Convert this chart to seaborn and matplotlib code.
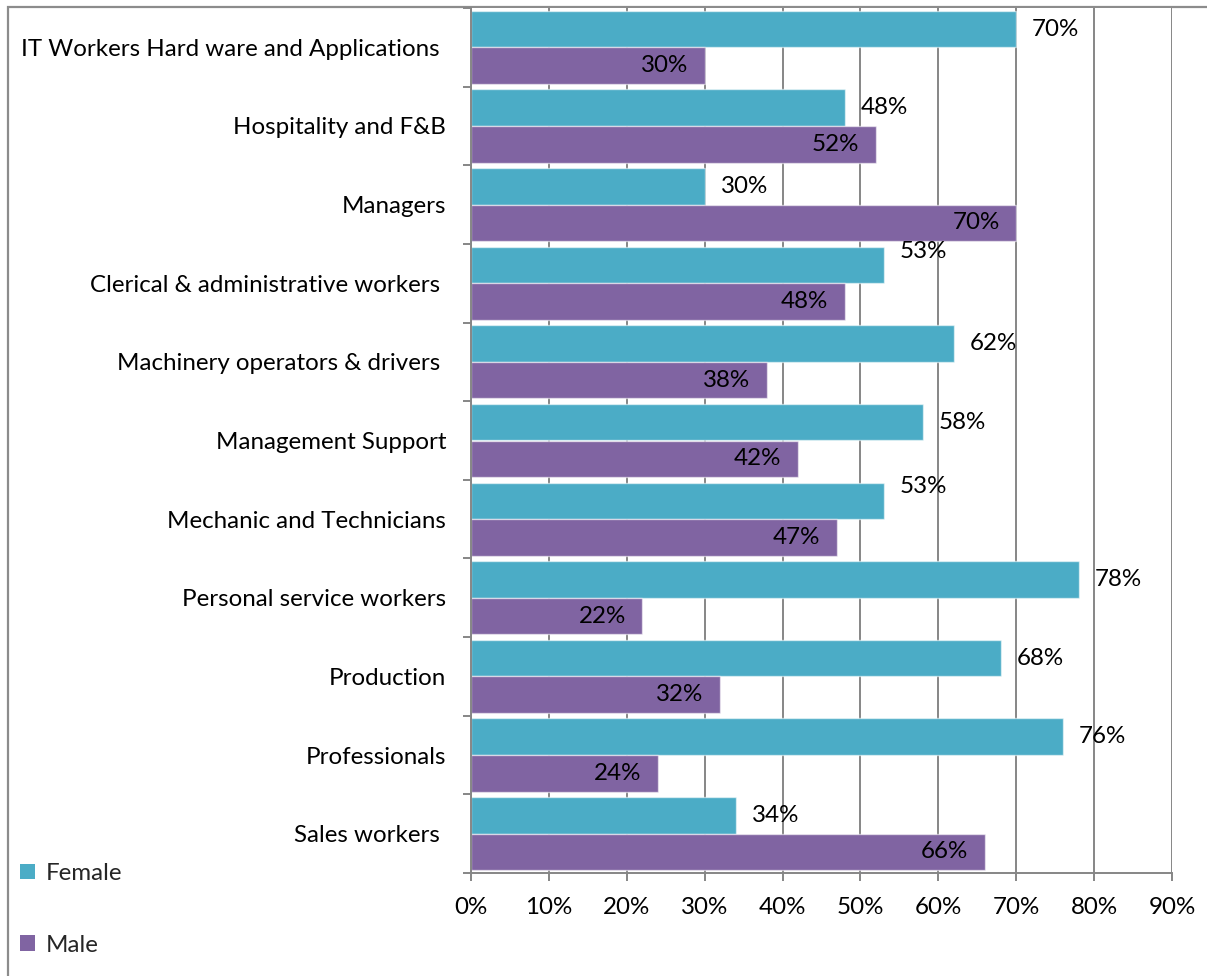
import matplotlib
matplotlib.use("Agg")
import matplotlib.pyplot as plt
import matplotlib.patches as mpatches
import seaborn as sns
import pandas as pd
import numpy as np

# Occupation categories, top to bottom
categories = [
    "IT Workers Hard ware and Applications ",
    "Hospitality and F&B",
    "Managers",
    "Clerical & administrative workers ",
    "Machinery operators & drivers ",
    "Management Support",
    "Mechanic and Technicians",
    "Personal service workers",
    "Production",
    "Professionals",
    "Sales workers ",
]
female = [70, 48, 30, 53, 62, 58, 53, 78, 68, 76, 34]
male = [30, 52, 70, 48, 38, 42, 47, 22, 32, 24, 66]
series = ["Female", "Male"]
x_ticks = [0, 10, 20, 30, 40, 50, 60, 70, 80, 90]

colors = {"Female": "#4BACC6", "Male": "#8064A2"}

df = pd.DataFrame({
    "category": categories * 2,
    "value": female + male,
    "sex": ["Female"] * len(categories) + ["Male"] * len(categories),
})

sns.set_theme(style="white")
plt.rcParams["font.family"] = ["Lato", "DejaVu Sans"]
FS = 17.4

W, H = 1207, 976
fig = plt.figure(figsize=(W / 100, H / 100), dpi=100)
ax = fig.add_axes([471 / W, 1 - 873 / H, (1172 - 471) / W, (873 - 8) / H])

sns.barplot(data=df, y="category", x="value", hue="sex", orient="h",
            palette=colors, hue_order=series, order=categories,
            width=0.93, saturation=1, edgecolor=(1, 1, 1, 0.55),
            linewidth=1, ax=ax)

ax.set_xlim(0, 90)
ax.set_ylim(len(categories) - 0.5, -0.5)
ax.set_xlabel("")
ax.set_ylabel("")

grid_c = "#868686"
ax.set_xticks(x_ticks)
ax.set_xticklabels([f"{v}%" for v in x_ticks], fontsize=FS, color="black")
ax.xaxis.grid(True, color=grid_c, linewidth=1.4)
ax.set_axisbelow(True)
ax.tick_params(axis="x", which="major", direction="out", length=6,
               width=1.4, color=grid_c, pad=11, bottom=True)

ax.set_yticks(np.arange(len(categories)))
ax.set_yticklabels(categories, fontsize=FS, color="black")
ax.set_yticks(np.arange(len(categories) + 1) - 0.5, minor=True)
ax.tick_params(axis="y", which="major", length=0, pad=18)
ax.tick_params(axis="y", which="minor", direction="out", length=6,
               width=1.4, color=grid_c, left=True)

for side in ["top", "right"]:
    ax.spines[side].set_visible(False)
for side in ["left", "bottom"]:
    ax.spines[side].set_color(grid_c)
    ax.spines[side].set_linewidth(1.4)

# Value labels: Female outside the bar end, Male inside the bar end
nudge = {("Female", 3): 10, ("Female", 6): 10}
for name, cont in zip(series, ax.containers):
    for i, bar in enumerate(cont):
        w = bar.get_width()
        yc = bar.get_y() + bar.get_height() / 2
        dy = nudge.get((name, i), 0)
        if name == "Female":
            ax.annotate(f"{w:.0f}%", (w, yc), xytext=(11.5, dy),
                        textcoords="offset points", ha="left", va="center",
                        fontsize=FS, color="black")
        else:
            ax.annotate(f"{w:.0f}%", (w, yc), xytext=(-12, dy),
                        textcoords="offset points", ha="right", va="center",
                        fontsize=FS, color="black")

# Legend in the lower-left corner, entries stacked with wide spacing
ax.get_legend().remove()
handles = [mpatches.Patch(facecolor=colors[s], edgecolor="none") for s in series]
fig.legend(handles, series, loc="upper left",
           bbox_to_anchor=(20 / W, 1 - 863 / H), frameon=False,
           fontsize=FS, handlelength=0.62, handleheight=0.62,
           handletextpad=0.45, labelspacing=2.1, borderpad=0, borderaxespad=0)

# Outer chart frame
frame = mpatches.Rectangle((8 / W, -0.05), 1.2, 1 - 7.5 / H + 0.05,
                           transform=fig.transFigure, fill=False,
                           edgecolor="#8c8c8c", linewidth=1.6, zorder=-1)
fig.patches.append(frame)

fig.savefig("out.png", dpi=100)
